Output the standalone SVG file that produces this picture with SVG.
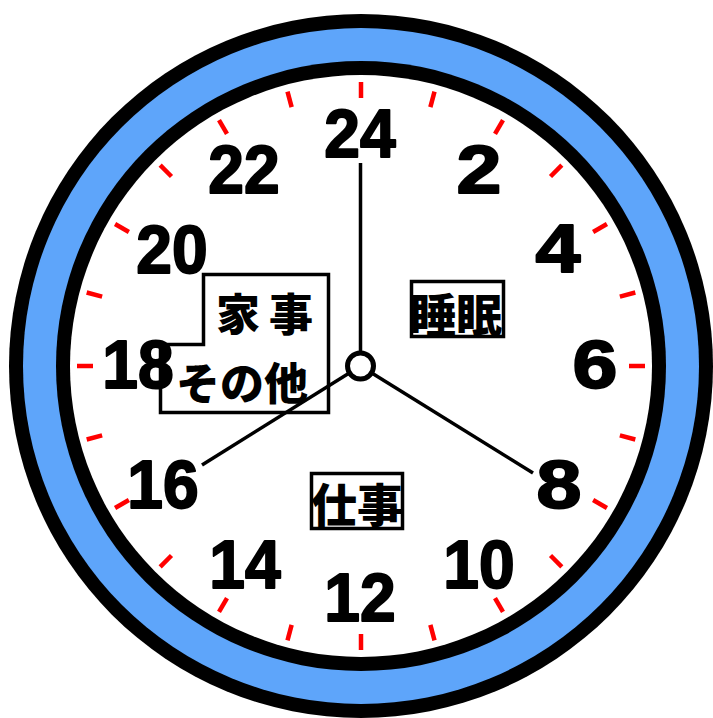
<svg xmlns="http://www.w3.org/2000/svg" width="713" height="718" viewBox="0 0 713 718">
  <style>
    .num { font-family: "Liberation Sans", Arial, sans-serif; font-weight: bold; font-size: 69px; fill: #000; stroke: #000; stroke-width: 2; stroke-linejoin: round; text-anchor: middle; }
    .jp { font-family: "Noto Sans CJK JP", "Noto Sans CJK SC", sans-serif; font-weight: 900; fill: #000; text-anchor: middle; dominant-baseline: central; }
    .box { fill: #fff; stroke: #000; stroke-width: 3.5; }
    .tick { stroke: #ff0000; stroke-width: 4.5; }
    .hand { stroke: #000; stroke-width: 3.5; stroke-linecap: butt; fill: none; }
  </style>
  <defs>
    <line id="tk" class="tick" x1="0" y1="-268" x2="0" y2="-284"/>
  </defs>
  <rect width="713" height="718" fill="#fff"/>
  <g id="clock-face">
    <circle cx="361" cy="366" r="352" fill="#000"/>
    <circle cx="361" cy="366" r="338" fill="#5ea5fa"/>
    <circle cx="361" cy="366" r="305" fill="#000"/>
    <circle cx="361" cy="366" r="291" fill="#fff"/>
  </g>
  <g id="ticks" transform="translate(361,366)">
    <use href="#tk" transform="rotate(0)"/>
    <use href="#tk" transform="rotate(15)"/>
    <use href="#tk" transform="rotate(30)"/>
    <use href="#tk" transform="rotate(45)"/>
    <use href="#tk" transform="rotate(60)"/>
    <use href="#tk" transform="rotate(75)"/>
    <use href="#tk" transform="rotate(90)"/>
    <use href="#tk" transform="rotate(105)"/>
    <use href="#tk" transform="rotate(120)"/>
    <use href="#tk" transform="rotate(135)"/>
    <use href="#tk" transform="rotate(150)"/>
    <use href="#tk" transform="rotate(165)"/>
    <use href="#tk" transform="rotate(180)"/>
    <use href="#tk" transform="rotate(195)"/>
    <use href="#tk" transform="rotate(210)"/>
    <use href="#tk" transform="rotate(225)"/>
    <use href="#tk" transform="rotate(240)"/>
    <use href="#tk" transform="rotate(255)"/>
    <use href="#tk" transform="rotate(270)"/>
    <use href="#tk" transform="rotate(285)"/>
    <use href="#tk" transform="rotate(300)"/>
    <use href="#tk" transform="rotate(315)"/>
    <use href="#tk" transform="rotate(330)"/>
    <use href="#tk" transform="rotate(345)"/>
  </g>
  <g id="label-kaji">
    <polygon class="box" points="203.5,274.5 328.5,274.5 328.5,412.5 160.5,412.5 160.5,344.5 203.5,344.5"/>
    <text class="jp" font-size="44" y="312"><tspan x="238">家</tspan><tspan x="291">事</tspan></text>
    <text class="jp" font-size="44" x="242" y="381">その他</text>
  </g>
  <g id="label-suimin">
    <rect class="box" x="411.5" y="281.5" width="92" height="55"/>
    <text class="jp" font-size="46" x="456" y="312">睡眠</text>
  </g>
  <g id="label-shigoto">
    <rect class="box" x="311.5" y="473.5" width="91" height="55"/>
    <text class="jp" font-size="46" x="357" y="502">仕事</text>
  </g>
  <g id="numbers">
    <text class="num" transform="translate(360,156.5) scale(0.93,1)">24</text>
    <text class="num" transform="translate(479,192.5) scale(1.17,1)">2</text>
    <text class="num" transform="translate(558,271.5) scale(1.17,1)">4</text>
    <text class="num" transform="translate(595,387.5) scale(1.17,1)">6</text>
    <text class="num" transform="translate(559,507.5) scale(1.17,1)">8</text>
    <text class="num" transform="translate(479,587.5) scale(0.93,1)">10</text>
    <text class="num" transform="translate(360,620.5) scale(0.93,1)">12</text>
    <text class="num" transform="translate(245,587.5) scale(0.93,1)">14</text>
    <text class="num" transform="translate(163,507.5) scale(0.93,1)">16</text>
    <text class="num" transform="translate(138,387.5) scale(0.93,1)">18</text>
    <text class="num" transform="translate(172,272.5) scale(0.93,1)">20</text>
    <text class="num" transform="translate(244,192.5) scale(0.93,1)">22</text>
  </g>
  <g id="connectors">
    <line class="hand" x1="360.5" y1="366" x2="360.5" y2="163"/>
    <line class="hand" x1="360.5" y1="366" x2="533" y2="473"/>
    <line class="hand" x1="360.5" y1="366" x2="202" y2="465"/>
  </g>
  <g id="hub">
    <circle cx="360.5" cy="366" r="13" fill="#fff" stroke="#000" stroke-width="5"/>
  </g>
</svg>
